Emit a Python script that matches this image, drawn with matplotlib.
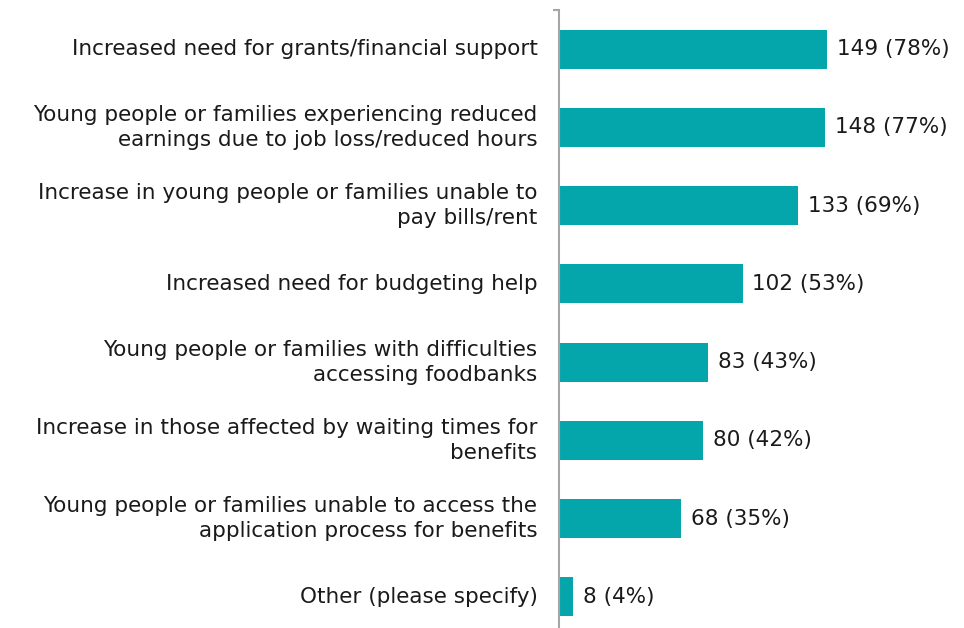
import matplotlib.pyplot as plt

# Financial issues reported by respondents
labels = [
    "Increased need for grants/financial support",
    "Young people or families experiencing reduced\nearnings due to job loss/reduced hours",
    "Increase in young people or families unable to\npay bills/rent",
    "Increased need for budgeting help",
    "Young people or families with difficulties\naccessing foodbanks",
    "Increase in those affected by waiting times for\nbenefits",
    "Young people or families unable to access the\napplication process for benefits",
    "Other (please specify)",
]
counts = [149, 148, 133, 102, 83, 80, 68, 8]
percents = [78, 77, 69, 53, 43, 42, 35, 4]

bar_color = "#05A5AC"
text_color = "#1a1a1a"
fs = 15.5

fig = plt.figure(figsize=(9.64, 6.28), dpi=100)
# axes from x=559px to the right edge, slots of ~78px starting at y=10px
ax = fig.add_axes([559 / 964, 1 - 636 / 628, 1 - 559 / 964, 626 / 628])

y = range(len(labels))
ax.barh(y, counts, height=0.5, color=bar_color)
ax.set_ylim(len(labels) - 0.5, -0.5)
ax.set_xlim(0, 225)

for i, (c, p) in enumerate(zip(counts, percents)):
    ax.text(c + 5.5, i, f"{c} ({p}%)", va="center", ha="left",
            fontsize=fs, color=text_color)

for i, lab in enumerate(labels):
    ax.text(-12, i, lab, va="center", ha="right", fontsize=fs,
            color=text_color, linespacing=1.3, multialignment="right")

for side in ["top", "right", "bottom"]:
    ax.spines[side].set_visible(False)
ax.spines["left"].set_color("#a6a6a6")
ax.spines["left"].set_linewidth(1.5)
ax.set_xticks([])
ax.set_yticks([-0.5])
ax.set_yticklabels([])
ax.tick_params(axis="y", length=4, width=1.5, color="#a6a6a6")

fig.savefig("out.png", dpi=100)
